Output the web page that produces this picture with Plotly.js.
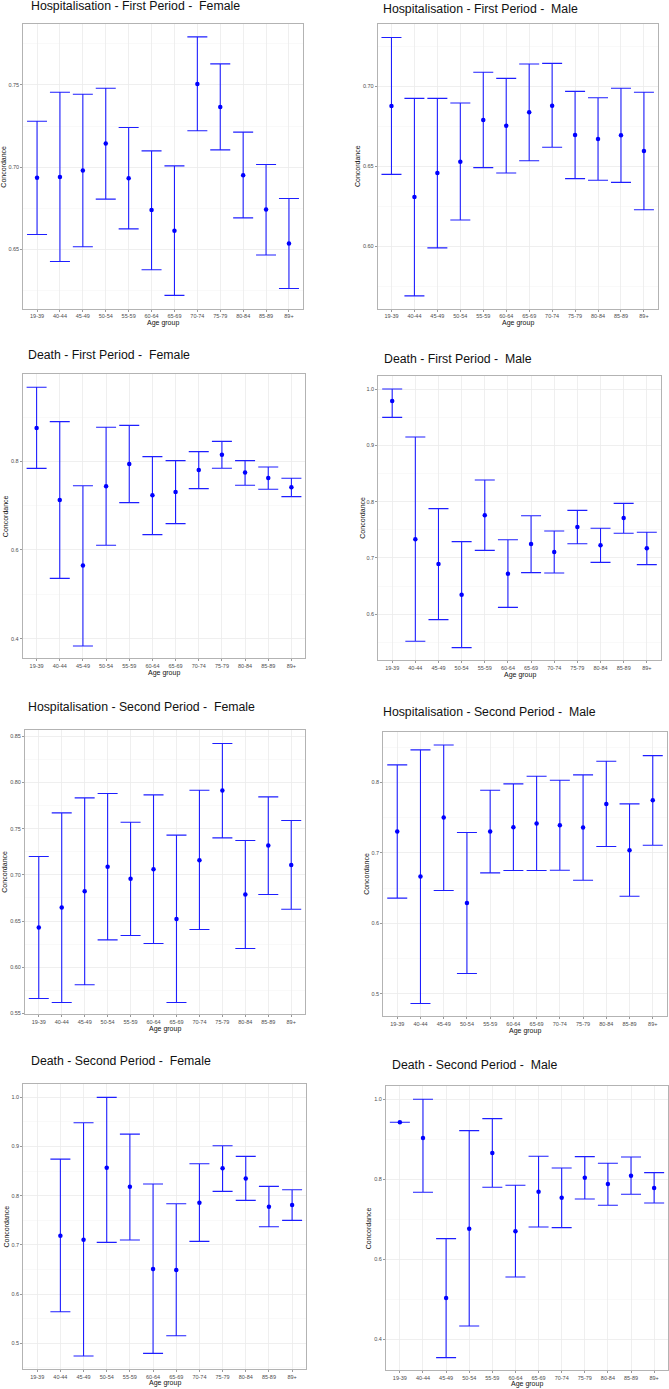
<!DOCTYPE html>
<html>
<head>
<meta charset="utf-8">
<script src="https://cdn.plot.ly/plotly-3.0.1.min.js"></script>
<style>html,body{margin:0;padding:0;background:#fff;}#chart{width:669px;height:1389px;}</style>
</head>
<body>
<div id="chart"></div>
<script>
const ageGroups = ["19-39","40-44","45-49","50-54","55-59","60-64","65-69","70-74","75-79","80-84","85-89","89+"];

// Hospitalisation - First Period - Female
const hospFirstFemaleEst = [0.6935,0.6941,0.698,0.7144,0.6933,0.6739,0.6613,0.7506,0.7366,0.6951,0.6743,0.6536];
const hospFirstFemaleLow = [0.6591,0.6427,0.6516,0.6806,0.6625,0.6377,0.6221,0.7221,0.7105,0.6692,0.6466,0.6263];
const hospFirstFemaleUp  = [0.7279,0.7455,0.7443,0.748,0.7241,0.7099,0.7008,0.7792,0.7628,0.7213,0.7016,0.681];

// Hospitalisation - First Period - Male
const hospFirstMaleEst = [0.6877,0.6308,0.6458,0.6529,0.679,0.6754,0.6838,0.6879,0.6696,0.6671,0.6694,0.6596];
const hospFirstMaleLow = [0.645,0.569,0.599,0.6165,0.6492,0.6458,0.6535,0.6619,0.6423,0.6413,0.64,0.6229];
const hospFirstMaleUp  = [0.7306,0.6925,0.6925,0.6896,0.7088,0.705,0.714,0.7144,0.6969,0.6929,0.6988,0.6963];

// Death - First Period - Female
const deathFirstFemaleEst = [0.875,0.7128,0.5647,0.7436,0.794,0.7233,0.7308,0.7805,0.815,0.7745,0.7624,0.7414];
const deathFirstFemaleLow = [0.784,0.536,0.3835,0.6105,0.7068,0.6346,0.6594,0.7384,0.7842,0.7459,0.7369,0.7203];
const deathFirstFemaleUp  = [0.967,0.8895,0.745,0.8767,0.8812,0.8105,0.8015,0.8218,0.8451,0.8015,0.7872,0.7617];

// Death - First Period - Male
const deathFirstMaleEst = [0.9787,0.7331,0.6893,0.6349,0.7757,0.6722,0.7249,0.7107,0.755,0.7225,0.771,0.7172];
const deathFirstMaleLow = [0.9497,0.5521,0.5905,0.5408,0.7136,0.6124,0.674,0.6734,0.7254,0.6923,0.7438,0.6882];
const deathFirstMaleUp  = [1.0,0.9148,0.7876,0.729,0.8385,0.7325,0.7751,0.7479,0.7846,0.7527,0.797,0.7456];

// Hospitalisation - Second Period - Female
const hospSecondFemaleEst = [0.643,0.6646,0.6823,0.7087,0.6957,0.7061,0.6523,0.7159,0.7913,0.6787,0.7318,0.7108];
const hospSecondFemaleLow = [0.5661,0.5617,0.5809,0.6296,0.6343,0.6256,0.5617,0.6408,0.7401,0.6202,0.6787,0.6628];
const hospSecondFemaleUp  = [0.7199,0.7671,0.7834,0.7881,0.757,0.7866,0.743,0.7917,0.8422,0.7372,0.7845,0.7588];

// Hospitalisation - Second Period - Male
const hospSecondMaleEst = [0.7302,0.6665,0.7501,0.6291,0.7302,0.7364,0.7416,0.7392,0.7359,0.7694,0.7038,0.7746];
const hospSecondMaleLow = [0.6358,0.4865,0.6466,0.529,0.6717,0.675,0.675,0.6754,0.6613,0.709,0.6386,0.7109];
const hospSecondMaleUp  = [0.8247,0.846,0.853,0.7288,0.7888,0.7978,0.8086,0.803,0.8105,0.8299,0.7694,0.8379];

// Death - Second Period - Female
const deathSecondFemaleEst = [null,0.7187,0.7106,0.8569,0.8183,0.651,0.6489,0.7858,0.8556,0.8352,0.7776,0.781];
const deathSecondFemaleLow = [null,0.5642,0.4741,0.7051,0.7099,0.4795,0.5154,0.7072,0.8088,0.7905,0.737,0.7499];
const deathSecondFemaleUp  = [null,0.8745,0.9484,1.0,0.9253,0.8237,0.7837,0.865,0.9016,0.8799,0.819,0.8122];

// Death - Second Period - Male
const deathSecondMaleEst = [0.9425,0.9033,0.5033,0.6767,0.8658,0.67,0.7692,0.7542,0.8042,0.7883,0.8092,0.7783];
const deathSecondMaleLow = [0.9425,0.7675,0.3542,0.4333,0.78,0.5558,0.6808,0.6792,0.7508,0.735,0.7625,0.7408];
const deathSecondMaleUp  = [0.9425,1.0,0.6517,0.9217,0.9517,0.785,0.8575,0.8283,0.8567,0.84,0.8558,0.8167];

const panelTitles = [
  "Hospitalisation - First Period -  Female",
  "Hospitalisation - First Period -  Male",
  "Death - First Period -  Female",
  "Death - First Period -  Male",
  "Hospitalisation - Second Period -  Female",
  "Hospitalisation - Second Period -  Male",
  "Death - Second Period -  Female",
  "Death - Second Period -  Male"
];
const xTitle = "Age group";
const yTitle = "Concordance";

const series = [
  [hospFirstFemaleEst, hospFirstFemaleLow, hospFirstFemaleUp],
  [hospFirstMaleEst, hospFirstMaleLow, hospFirstMaleUp],
  [deathFirstFemaleEst, deathFirstFemaleLow, deathFirstFemaleUp],
  [deathFirstMaleEst, deathFirstMaleLow, deathFirstMaleUp],
  [hospSecondFemaleEst, hospSecondFemaleLow, hospSecondFemaleUp],
  [hospSecondMaleEst, hospSecondMaleLow, hospSecondMaleUp],
  [deathSecondFemaleEst, deathSecondFemaleLow, deathSecondFemaleUp],
  [deathSecondMaleEst, deathSecondMaleLow, deathSecondMaleUp]
];

// layout geometry (pixels)
const W = 669, H = 1389;
const boxes = [
  {L:23.3, R:302.7, T:24,    B:308.7, yr:[0.614,0.787],  dt:0.05, fmt:'.2f', tx:29,    ty:5.7,    cx:3.3,   ay:323.3},
  {L:377.7,R:657.7, T:24,    B:308.7, yr:[0.561,0.739],  dt:0.05, fmt:'.2f', tx:380.7, ty:8.7,    cx:357.7, ay:323.3},
  {L:22.7, R:305.3, T:374,   B:658.3, yr:[0.3556,0.997], dt:0.2,  fmt:'.1f', tx:26,    ty:354.5,  cx:5,     ay:672.7},
  {L:378.3,R:660.7, T:376,   B:660,   yr:[0.5189,1.0231],dt:0.1,  fmt:'.1f', tx:381.7, ty:359,    cx:361.7, ay:674.5},
  {L:25,   R:305,   T:730,   B:1014,  yr:[0.5493,0.8569],dt:0.05, fmt:'.2f', tx:26,    ty:706.7,  cx:4.7,   ay:1028.5},
  {L:383.3,R:666.7, T:732.3, B:1016,  yr:[0.4688,0.8709],dt:0.1,  fmt:'.1f', tx:381,   ty:711.7,  cx:365.7, ay:1030.5},
  {L:23.3, R:306,   T:1084,  B:1369,  yr:[0.4478,1.0271],dt:0.1,  fmt:'.1f', tx:29,    ty:1060.7, cx:6,     ay:1382.8},
  {L:386,  R:668,   T:1086,  B:1370,  yr:[0.3233,1.0333],dt:0.2,  fmt:'.1f', tx:390,   ty:1064.7, cx:368.3, ay:1384}
];

const FONT = "Liberation Sans, Arial, sans-serif";
const blue = "#0000ff";
const traces = [];
const layout = {
  width: W, height: H,
  margin: {l:0, r:0, t:0, b:0},
  paper_bgcolor: "#ffffff",
  plot_bgcolor: "#ffffff",
  showlegend: false,
  font: {family: FONT},
  annotations: []
};

series.forEach((s, i) => {
  const [est, low, up] = s;
  const n = i + 1;
  const bx = boxes[i];
  const plus = est.map((v, k) => v === null ? null : up[k] - v);
  const minus = est.map((v, k) => v === null ? null : v - low[k]);
  traces.push({
    type: "scatter", mode: "markers",
    x: ageGroups, y: est,
    xaxis: "x" + n, yaxis: "y" + n,
    marker: {color: blue, size: 4.5},
    error_y: {type: "data", symmetric: false, array: plus, arrayminus: minus,
              color: "rgb(30,30,255)", thickness: 1.1, width: 10},
    hoverinfo: "x+y"
  });
  const xa = {
    domain: [bx.L / W, bx.R / W],
    anchor: "y" + n,
    type: "category",
    categoryorder: "array", categoryarray: ageGroups,
    range: [-0.6, 11.6],
    showline: true, mirror: true, linecolor: "#b3b3b3", linewidth: 1,
    showgrid: true, gridcolor: "#ebebeb", gridwidth: 0.8,
    ticks: "outside", ticklen: 2, tickcolor: "#555555", tickwidth: 0.6,
    tickfont: {family: FONT, size: 5.5, color: "#4d4d4d"},
    zeroline: false, fixedrange: true
  };
  const ya = {
    domain: [1 - bx.B / H, 1 - bx.T / H],
    anchor: "x" + n,
    range: bx.yr,
    dtick: bx.dt, tick0: 0, tickformat: bx.fmt,
    showline: true, mirror: true, linecolor: "#b3b3b3", linewidth: 1,
    showgrid: true, gridcolor: "#ebebeb", gridwidth: 0.8,
    minor: {dtick: bx.dt / 2, tick0: 0, showgrid: true, gridcolor: "#f5f5f5", gridwidth: 0.6},
    ticks: "outside", ticklen: 2, tickcolor: "#555555", tickwidth: 0.6,
    tickfont: {family: FONT, size: 5.5, color: "#4d4d4d"},
    zeroline: false, fixedrange: true
  };
  layout["xaxis" + n] = xa;
  layout["yaxis" + n] = ya;

  layout.annotations.push({
    text: panelTitles[i], xref: "paper", yref: "paper",
    x: bx.tx / W, y: 1 - bx.ty / H, xanchor: "left", yanchor: "middle",
    showarrow: false, font: {family: FONT, size: 12.3, color: "#111111"}
  });
  layout.annotations.push({
    text: xTitle, xref: "paper", yref: "paper",
    x: ((bx.L + bx.R) / 2) / W, y: 1 - bx.ay / H, xanchor: "center", yanchor: "middle",
    showarrow: false, font: {family: FONT, size: 7, color: "#111111"}
  });
  layout.annotations.push({
    text: yTitle, xref: "paper", yref: "paper", textangle: -90,
    x: bx.cx / W, y: 1 - ((bx.T + bx.B) / 2) / H, xanchor: "center", yanchor: "middle",
    showarrow: false, font: {family: FONT, size: 7, color: "#111111"}
  });
});

Plotly.newPlot("chart", traces, layout, {displayModeBar: false, staticPlot: true});
</script>
</body>
</html>
